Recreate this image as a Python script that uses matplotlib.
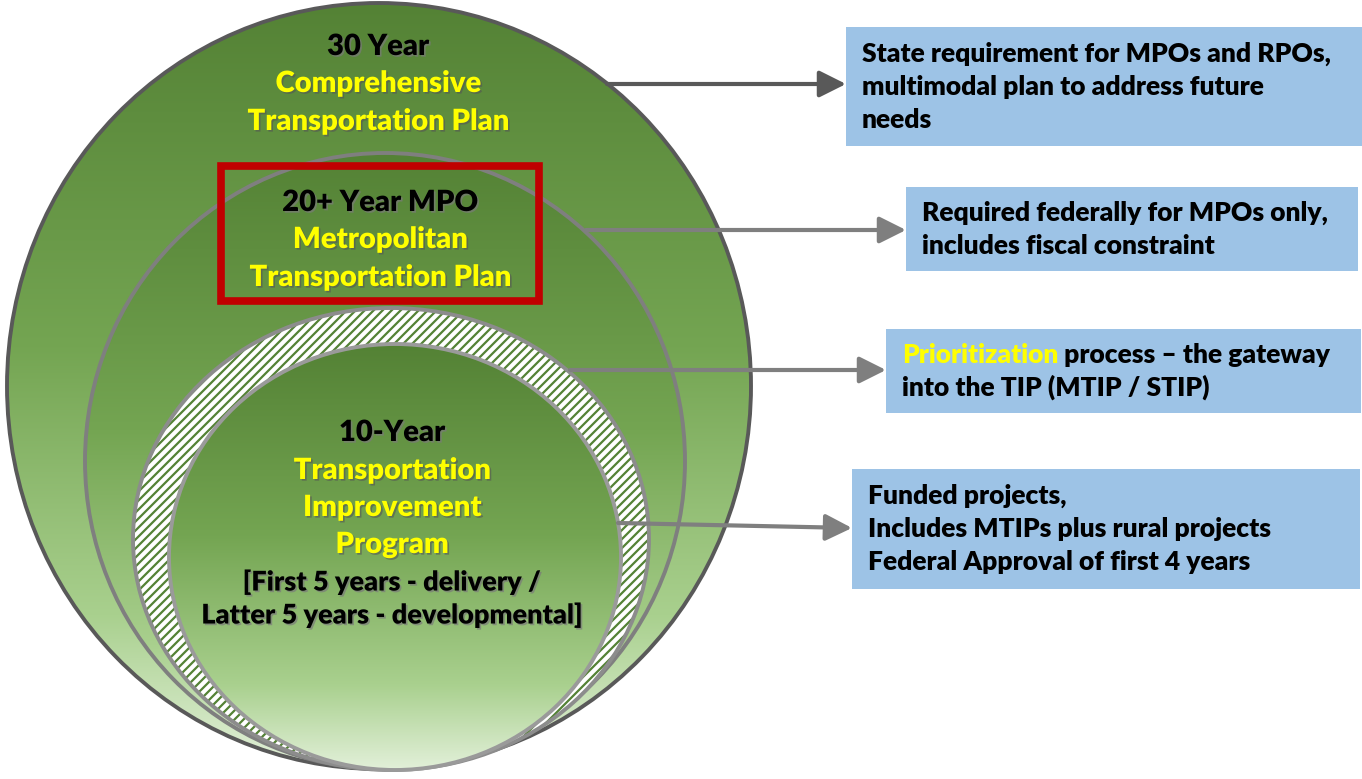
import numpy as np
import matplotlib
matplotlib.use("Agg")
import matplotlib.pyplot as plt
from matplotlib.patches import Ellipse, Rectangle
from matplotlib.collections import LineCollection
from matplotlib.colors import LinearSegmentedColormap
import matplotlib.patheffects as pe

plt.rcParams['font.family'] = ['Lato', 'DejaVu Sans']

# --- content ---
circle_years = ["30 Year", "20+ Year MPO", "10-Year"]
circle_titles = [["Comprehensive", "Transportation Plan"],
                 ["Metropolitan", "Transportation Plan"],
                 ["Transportation", "Improvement", "Program"]]
tip_note = ["[First 5 years - delivery /", "Latter 5 years - developmental]"]

box_lines = [["State requirement for MPOs and RPOs,",
              "multimodal plan to address future",
              "needs"],
             ["Required federally for MPOs only,",
              "includes fiscal constraint"],
             ["Prioritization process \u2013 the gateway",
              "into the TIP (MTIP / STIP)"],
             ["Funded projects,",
              "Includes MTIPs plus rural projects",
              "Federal Approval of first 4 years"]]
highlight_word = "Prioritization"

# --- layout (pixel space) ---
ellipses = [  # cx, cy, w, h, edge colour
    (379, 386, 744, 766, "#595959"),
    (385, 461, 600, 616, "#7f7f7f"),
    (391, 539, 516, 462, "#8c8c8c"),
    (395, 557, 452, 426, "#9a9a9a"),
]
boxes = [(846, 27, 516, 119), (906, 187, 452, 84),
         (886, 329, 475, 84), (852, 469, 508, 120)]
arrows = [((607, 84), (846, 84), "#595959"),
          ((586, 230), (906, 230), "#7f7f7f"),
          ((570, 370), (886, 370), "#7f7f7f"),
          ((618, 523), (852, 528), "#7f7f7f")]

GREEN = "#548235"
YELLOW = "#ffff00"
BLUE = "#9dc3e6"

green_cmap = LinearSegmentedColormap.from_list(
    "grn", [(0.0, "#548235"), (0.45, "#74a552"), (0.8, "#a9d08e"), (1.0, "#e2f0d9")])

fig = plt.figure(figsize=(13.62, 7.79), dpi=100)
ax = fig.add_axes([0, 0, 1, 1])
ax.set_xlim(0, 1362)
ax.set_ylim(779, 0)
ax.axis("off")

grad = np.linspace(0, 1, 256).reshape(-1, 1)


def gradient_ellipse(cx, cy, w, h, ec, z):
    e = Ellipse((cx, cy), w, h, facecolor="none", edgecolor="none", zorder=z)
    ax.add_patch(e)
    im = ax.imshow(grad, cmap=green_cmap, aspect="auto", origin="upper",
                   extent=(cx - w / 2, cx + w / 2, cy + h / 2, cy - h / 2),
                   zorder=z, interpolation="bilinear")
    im.set_clip_path(e)
    ax.add_patch(Ellipse((cx, cy), w, h, facecolor="none", edgecolor=ec,
                         lw=2.8, zorder=z + 0.5))


def hatched_ellipse(cx, cy, w, h, ec, z, step=9.0):
    e = Ellipse((cx, cy), w, h, facecolor="white", edgecolor="none", zorder=z)
    ax.add_patch(e)
    x0, x1 = cx - w / 2, cx + w / 2
    y0, y1 = cy - h / 2, cy + h / 2
    segs = []
    c = x0 + y0
    while c < x1 + y1:
        # "/" stripes: y = c - x (y axis points down)
        segs.append([(c - y1, y1), (c - y0, y0)])
        c += step
    lc = LineCollection(segs, colors=GREEN, linewidths=1.6, zorder=z + 0.1)
    ax.add_collection(lc)
    lc.set_clip_path(e)
    ax.add_patch(Ellipse((cx, cy), w, h, facecolor="none", edgecolor=ec,
                         lw=2.8, zorder=z + 0.5))


for i, (cx, cy, w, h, ec) in enumerate(ellipses):
    if i == 2:
        hatched_ellipse(cx, cy, w, h, ec, 1 + i)
    else:
        gradient_ellipse(cx, cy, w, h, ec, 1 + i)

ax.set_xlim(0, 1362)
ax.set_ylim(779, 0)

# red highlight box
ax.add_patch(Rectangle((221, 166), 318, 135, facecolor="none",
                       edgecolor="#c00000", lw=5.5, zorder=10))

shadow_dark = [pe.SimplePatchShadow(offset=(1.2, -1.2), shadow_rgbFace="#7a7a7a", alpha=0.7), pe.Normal()]
shadow_y = [pe.SimplePatchShadow(offset=(1.2, -1.2), shadow_rgbFace="#555555", alpha=0.6), pe.Normal()]

FS_C = 21
WT = "heavy"
# circle labels
label_pos = [(378, [47, 84, 122]), (380, [203, 240, 278]), (392, [433, 471, 508, 545])]
for k in range(3):
    x, ys = label_pos[k]
    ax.text(x, ys[0], circle_years[k], ha="center", va="center", fontsize=FS_C,
            fontweight=WT, color="black", zorder=12, path_effects=shadow_dark)
    for t, y in zip(circle_titles[k], ys[1:]):
        ax.text(x, y, t, ha="center", va="center", fontsize=FS_C, fontweight=WT,
                color=YELLOW, zorder=12, path_effects=shadow_y)
for t, y in zip(tip_note, [582, 615]):
    ax.text(392, y, t, ha="center", va="center", fontsize=FS_C - 1.5, fontweight=WT,
            color="black", zorder=12, path_effects=shadow_dark)

# arrows
for (x0, y0), (x1, y1), c in arrows:
    ax.annotate("", xy=(x1, y1), xytext=(x0, y0),
                arrowprops=dict(arrowstyle="-|>,head_length=0.9,head_width=0.45",
                                color=c, lw=3, shrinkA=0, shrinkB=0,
                                mutation_scale=18), zorder=9)

# description boxes
FS_B = 19
for (bx, by, bw, bh), lines in zip(boxes, box_lines):
    ax.add_patch(Rectangle((bx, by), bw, bh, facecolor=BLUE, edgecolor="none", zorder=8))
    n = len(lines)
    y0 = by + bh / 2 - (n - 1) * 33 / 2
    for j, line in enumerate(lines):
        y = y0 + j * 33
        if line.startswith(highlight_word):
            t = ax.text(bx + 16, y, highlight_word, ha="left", va="center",
                        fontsize=FS_B, fontweight=WT, color=YELLOW, zorder=12)
            ax.annotate(line[len(highlight_word):], xy=(1, 0.5), xycoords=t,
                        ha="left", va="center", fontsize=FS_B, fontweight=WT,
                        color="black", zorder=12)
        else:
            ax.text(bx + 16, y, line, ha="left", va="center", fontsize=FS_B,
                    fontweight=WT, color="black", zorder=12)

fig.savefig("out.png", dpi=100)
plt.close(fig)
